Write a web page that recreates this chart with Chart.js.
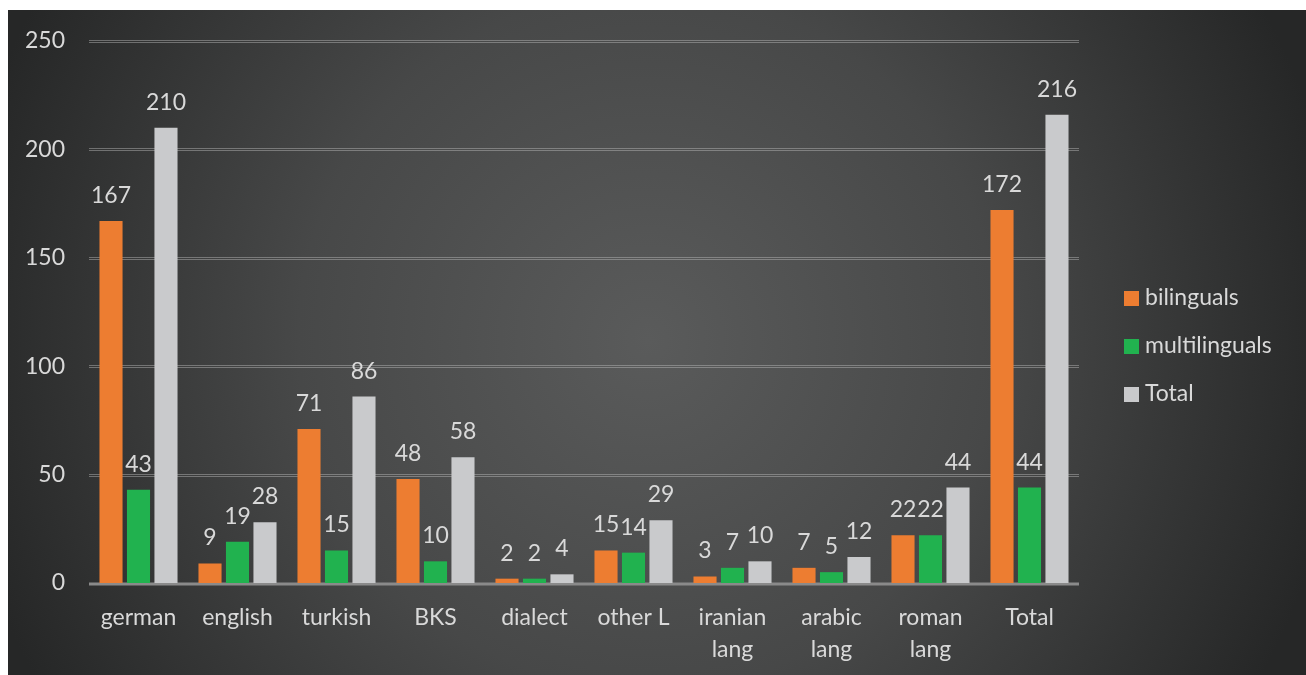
<!DOCTYPE html>
<html>
<head>
<meta charset="utf-8">
<script src="https://cdn.jsdelivr.net/npm/chart.js@4.4.1/dist/chart.umd.min.js"></script>
<style>
  html, body { margin: 0; padding: 0; background: #ffffff; }
  body { width: 1306px; height: 675px; position: relative; overflow: hidden; }
  #wrap { position: absolute; left: 8px; top: 10px; width: 1298px; height: 665px; }
</style>
</head>
<body>
<div id="wrap"><canvas id="c" width="1298" height="665"></canvas></div>
<script>
const categories = ["german", "english", "turkish", "BKS", "dialect", "other L", ["iranian", "lang"], ["arabic", "lang"], ["roman", "lang"], "Total"];
const bilinguals = [167, 9, 71, 48, 2, 15, 3, 7, 22, 172];
const multilinguals = [43, 19, 15, 10, 2, 14, 7, 5, 22, 44];
const totals = [210, 28, 86, 58, 4, 29, 10, 12, 44, 216];
const seriesNames = ["bilinguals", "multilinguals", "Total"];
const seriesColors = ["#ED7D31", "#21B24F", "#C9CACC"];
const yMin = 0, yMax = 250, yStep = 50;

const FONT = "Lato, 'Open Sans', sans-serif";
const TEXT = "#D9D9D9";
const FS = 23;

const bgPlugin = {
  id: "bg",
  beforeDraw(chart) {
    const ctx = chart.ctx, w = chart.width, h = chart.height;
    const g = ctx.createRadialGradient(640, 330, 0, 640, 330, 700);
    g.addColorStop(0, "#5a5b5b");
    g.addColorStop(0.5, "#474848");
    g.addColorStop(1, "#262727");
    ctx.save();
    ctx.fillStyle = g;
    ctx.fillRect(0, 0, w, h);
    ctx.restore();
  }
};

const gridPlugin = {
  id: "dblgrid",
  beforeDatasetsDraw(chart) {
    const ctx = chart.ctx, ys = chart.scales.y, a = chart.chartArea;
    ctx.save();
    ys.ticks.forEach(t => {
      if (t.value === 0) return;
      const p = Math.round(ys.getPixelForValue(t.value));
      ctx.strokeStyle = "rgba(190,190,190,0.45)";
      ctx.lineWidth = 1;
      ctx.beginPath();
      ctx.moveTo(a.left, p - 0.5); ctx.lineTo(a.right, p - 0.5);
      ctx.moveTo(a.left, p + 1.5); ctx.lineTo(a.right, p + 1.5);
      ctx.stroke();
    });
    const z = ys.getPixelForValue(0);
    ctx.strokeStyle = "#8a8a8a";
    ctx.lineWidth = 3;
    ctx.beginPath();
    ctx.moveTo(a.left, z + 1); ctx.lineTo(a.right, z + 1);
    ctx.stroke();
    ctx.restore();
  }
};

const labelPlugin = {
  id: "vals",
  afterDatasetsDraw(chart) {
    const ctx = chart.ctx;
    ctx.save();
    ctx.font = FS + "px " + FONT;
    ctx.fillStyle = TEXT;
    ctx.textAlign = "center";
    ctx.textBaseline = "alphabetic";
    chart.data.datasets.forEach((ds, i) => {
      const meta = chart.getDatasetMeta(i);
      meta.data.forEach((el, j) => {
        ctx.fillText(String(ds.data[j]), el.x, el.y - 18);
      });
    });
    ctx.restore();
  }
};

const legendPlugin = {
  id: "customLegend",
  afterDraw(chart) {
    const ctx = chart.ctx;
    ctx.save();
    ctx.font = FS + "px " + FONT;
    ctx.textAlign = "left";
    ctx.textBaseline = "alphabetic";
    chart.data.datasets.forEach((ds, i) => {
      const top = 281 + i * 48;
      ctx.fillStyle = ds.backgroundColor;
      ctx.fillRect(1116, top, 15, 15);
      ctx.fillStyle = TEXT;
      ctx.fillText(ds.label, 1137, top + 14);
    });
    ctx.restore();
  }
};

new Chart(document.getElementById("c"), {
  type: "bar",
  data: {
    labels: categories,
    datasets: [
      { label: seriesNames[0], data: bilinguals, backgroundColor: seriesColors[0] },
      { label: seriesNames[1], data: multilinguals, backgroundColor: seriesColors[1] },
      { label: seriesNames[2], data: totals, backgroundColor: seriesColors[2] }
    ]
  },
  options: {
    responsive: false,
    animation: false,
    devicePixelRatio: 1,
    layout: { padding: { top: 31, right: 227, bottom: 0, left: 0 } },
    datasets: { bar: { categoryPercentage: 0.833, barPercentage: 0.84, borderWidth: 0 } },
    plugins: { legend: { display: false }, tooltip: { enabled: false } },
    scales: {
      x: {
        grid: { display: false, drawTicks: false },
        border: { display: false },
        ticks: { color: TEXT, font: { family: FONT, size: FS, lineHeight: 1.4 }, padding: 18, maxRotation: 0, autoSkip: false },
        afterFit(scale) { scale.height = 92; scale.paddingLeft = 0; scale.paddingRight = 0; }
      },
      y: {
        min: yMin, max: yMax,
        grid: { display: false, drawTicks: false },
        border: { display: false },
        ticks: { stepSize: yStep, color: TEXT, font: { family: FONT, size: FS }, padding: 24 },
        afterFit(scale) { scale.width = 81; scale.paddingTop = 0; scale.paddingBottom = 0; }
      }
    }
  },
  plugins: [bgPlugin, gridPlugin, labelPlugin, legendPlugin]
});
</script>
</body>
</html>
